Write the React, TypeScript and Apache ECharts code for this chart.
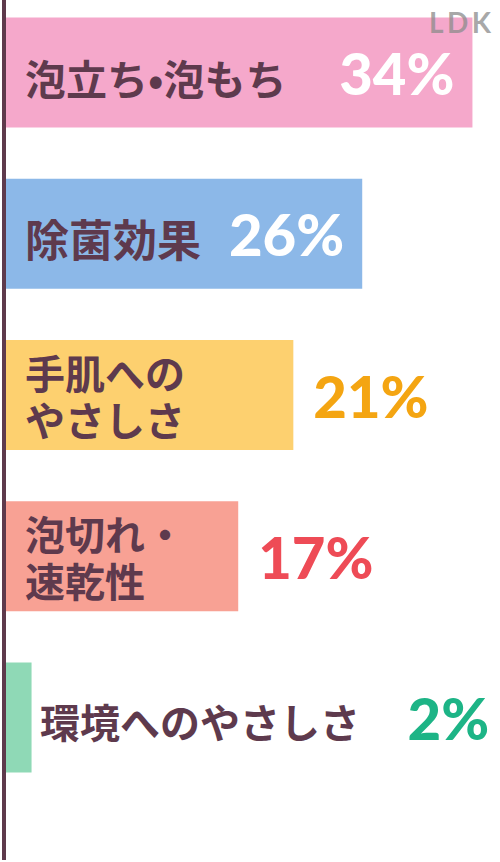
import { useEffect, useRef } from 'react'
import * as echarts from 'echarts'

const categories = ['泡立ち•泡もち', '除菌効果', '手肌への\nやさしさ', '泡切れ・\n速乾性', '環境へのやさしさ']
const values = [34, 26, 21, 17, 2]
const barColors = ['#f5a8cb', '#8cb8e8', '#fdd06f', '#f8a194', '#8fd9b6']
const percentColors = ['#ffffff', '#ffffff', '#f4a512', '#ee4b56', '#1db486']

const TEXT_DARK = '#5e3a4d'
const JP_FONT = '"Noto Sans CJK JP", "Noto Sans", sans-serif'

export default function App() {
  const chartRef = useRef<HTMLDivElement>(null)

  useEffect(() => {
    if (!chartRef.current) return
    const chart = echarts.init(chartRef.current, undefined, { renderer: 'svg' })

    const option: echarts.EChartsOption = {
      animation: false,
      backgroundColor: '#ffffff',
      grid: {
        left: 4,
        right: 0,
        top: -8,
        height: 806,
        containLabel: false,
        outerBoundsMode: 'none'
      } as any,
      xAxis: {
        type: 'value',
        min: 0,
        max: 36,
        show: false
      },
      yAxis: {
        type: 'category',
        data: categories,
        inverse: true,
        z: 10,
        axisLine: { show: false },
        axisTick: { show: false },
        axisLabel: {
          inside: true,
          margin: 21,
          color: TEXT_DARK,
          fontFamily: JP_FONT,
          fontWeight: 'bold',
          fontSize: 40,
          lineHeight: 47,
          formatter: (value: string, index: number) => {
            if (index === 0) return `{wide|${value}}`
            if (index === 1) return `{big|${value}}`
            if (index === 4) return `{pad|${value}}`
            return value
          },
          rich: {
            wide: { fontSize: 41, fontFamily: JP_FONT, fontWeight: 'bold', color: TEXT_DARK, padding: [8, 0, 0, 0] },
            big: { fontSize: 44, fontFamily: JP_FONT, fontWeight: 'bold', color: TEXT_DARK, padding: [8, 0, 0, 0] },
            pad: { fontSize: 40, fontFamily: JP_FONT, fontWeight: 'bold', color: TEXT_DARK, padding: [8, 0, 0, 15] }
          }
        }
      },
      series: [
        {
          type: 'bar',
          barWidth: 110,
          data: values.map((v, i) => ({
            value: v,
            itemStyle: { color: barColors[i] },
            label: {
              show: true,
              position: i < 2 ? 'insideRight' : 'right',
              distance: i < 2 ? 18 : i === 4 ? 376 : 20,
              color: percentColors[i],
              fontFamily: 'Lato, sans-serif',
              fontWeight: 900,
              fontSize: 58,
              formatter: '{c}%'
            }
          }))
        }
      ],
      graphic: [
        {
          type: 'line',
          shape: { x1: 4, y1: 0, x2: 4, y2: 860 },
          style: { stroke: '#5e3a4c', lineWidth: 4 },
          z: 20
        },
        {
          type: 'text',
          x: 429,
          y: 8,
          z: 20,
          style: {
            text: 'L\u2009D\u2009K',
            fill: 'rgba(140,140,140,0.75)',
            font: 'bold 28px Lato, sans-serif'
          }
        }
      ]
    }

    chart.setOption(option)
    return () => chart.dispose()
  }, [])

  return (
    <div
      ref={chartRef}
      style={{ position: 'fixed', left: 0, top: 0, width: 500, height: 862 }}
    />
  )
}
